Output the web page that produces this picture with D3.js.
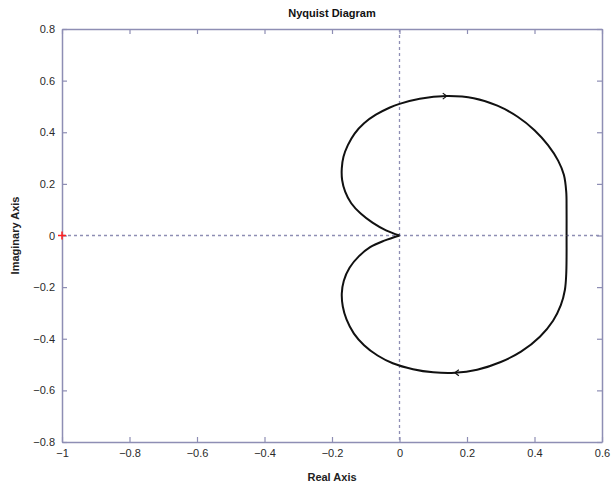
<!DOCTYPE html>
<html>
<head>
<meta charset="utf-8">
<script src="https://cdn.jsdelivr.net/npm/d3@7"></script>
<style>
  body { margin: 0; background: #fff; }
  svg { display: block; font-family: 'Liberation Sans', Arial, sans-serif; }
</style>
</head>
<body>
<div class="chart"></div>
<script>
const width = 613,
	height = 488

const margin = { top: 29, right: 11, bottom: 46, left: 62 }

// tick values
const xTicks = [-1, -0.8, -0.6, -0.4, -0.2, 0, 0.2, 0.4, 0.6]
const yTicks = [-0.8, -0.6, -0.4, -0.2, 0, 0.2, 0.4, 0.6, 0.8]

// upper branch (cusp -> right side)
const upperRe = [0, -0.04, -0.08, -0.115, -0.143, -0.161, -0.17, -0.171, -0.166, -0.153, -0.133, -0.105, -0.07, -0.03, 0, 0.06, 0.14, 0.22, 0.29, 0.35, 0.4, 0.44, 0.47, 0.487, 0.494, 0.495, 0.495]
const upperIm = [0, 0.02, 0.05, 0.085, 0.125, 0.17, 0.215, 0.26, 0.305, 0.35, 0.395, 0.435, 0.468, 0.495, 0.51, 0.53, 0.54, 0.532, 0.503, 0.46, 0.408, 0.35, 0.29, 0.235, 0.17, 0.1, 0]

// lower branch (cusp -> right side)
const lowerRe = [0, -0.045, -0.087, -0.12, -0.148, -0.165, -0.171, -0.168, -0.157, -0.135, -0.105, -0.065, -0.02, 0.04, 0.1, 0.164, 0.23, 0.3, 0.36, 0.416, 0.455, 0.478, 0.49, 0.494, 0.495, 0.495]
const lowerIm = [0, -0.02, -0.045, -0.08, -0.125, -0.175, -0.225, -0.275, -0.325, -0.38, -0.425, -0.465, -0.495, -0.518, -0.53, -0.532, -0.52, -0.49, -0.45, -0.392, -0.33, -0.27, -0.211, -0.15, -0.08, 0]

const axisColor = '#8e8eb4'

const svg = d3.select('.chart').append('svg').attr('width', width).attr('height', height)

const x = d3.scaleLinear().domain([-1, 0.6]).range([margin.left, width - margin.right])
const y = d3.scaleLinear().domain([-0.8, 0.8]).range([height - margin.bottom, margin.top])

const x0 = x.range()[0], x1 = x.range()[1]
const y0 = y.range()[1], y1 = y.range()[0]

// dashed zero lines
svg.append('line')
	.attr('x1', x0).attr('x2', x1)
	.attr('y1', y(0)).attr('y2', y(0))
	.attr('stroke', axisColor).attr('stroke-width', 1.3)
	.attr('stroke-dasharray', '3,3')
svg.append('line')
	.attr('x1', x(0)).attr('x2', x(0))
	.attr('y1', y0).attr('y2', y1)
	.attr('stroke', axisColor).attr('stroke-width', 1.3)
	.attr('stroke-dasharray', '3,3')

// axes (inward ticks, boxed like matlab)
const styleAxis = g => {
	g.select('.domain').attr('stroke', axisColor).attr('stroke-width', 1.5)
	g.selectAll('.tick line').attr('stroke', axisColor).attr('stroke-width', 1.2)
	g.selectAll('.tick text').attr('fill', '#2a2a2a').style('font-size', '11px')
}
const fmt = d => d3.format('')(+d.toFixed(1))

svg.append('g')
	.attr('transform', `translate(0,${y1})`)
	.call(d3.axisBottom(x).tickValues(xTicks).tickSize(-5).tickSizeOuter(0).tickPadding(7).tickFormat(fmt))
	.call(styleAxis)
svg.append('g')
	.attr('transform', `translate(0,${y0})`)
	.call(d3.axisTop(x).tickValues(xTicks).tickSize(-5).tickSizeOuter(0).tickFormat(''))
	.call(styleAxis)
svg.append('g')
	.attr('transform', `translate(${x0},0)`)
	.call(d3.axisLeft(y).tickValues(yTicks).tickSize(-5).tickSizeOuter(0).tickPadding(7).tickFormat(fmt))
	.call(styleAxis)
svg.append('g')
	.attr('transform', `translate(${x1},0)`)
	.call(d3.axisRight(y).tickValues(yTicks).tickSize(-5).tickSizeOuter(0).tickFormat(''))
	.call(styleAxis)

// the curve
const line = d3.line().x(d => x(d[0])).y(d => y(d[1])).curve(d3.curveCatmullRom.alpha(0.5))
const upper = upperRe.map((v, i) => [v, upperIm[i]])
const lower = lowerRe.map((v, i) => [v, lowerIm[i]])

svg.append('path').datum(upper)
	.attr('fill', 'none').attr('stroke', '#111').attr('stroke-width', 2).attr('d', line)
svg.append('path').datum(lower)
	.attr('fill', 'none').attr('stroke', '#111').attr('stroke-width', 2).attr('d', line)

// small direction arrows
const arrow = (px, py, dir) => {
	const ax = x(px), ay = y(py)
	svg.append('path')
		.attr('d', `M${ax - 4 * dir},${ay - 3}L${ax},${ay}L${ax - 4 * dir},${ay + 3}`)
		.attr('fill', 'none').attr('stroke', '#111').attr('stroke-width', 1.2)
}
arrow(upperRe[16], upperIm[16], 1)
arrow(lowerRe[15], lowerIm[15], -1)

// critical point -1 + 0j
const cx = x(-1), cy = y(0)
svg.append('path')
	.attr('d', `M${cx - 4},${cy}H${cx + 4}M${cx},${cy - 4}V${cy + 4}`)
	.attr('stroke', '#ff2020').attr('stroke-width', 1.5)

// title
svg.append('text')
	.attr('x', (x0 + x1) / 2).attr('y', 17)
	.attr('text-anchor', 'middle')
	.style('font-size', '11px').style('font-weight', 'bold').attr('fill', '#111')
	.text('Nyquist Diagram')

// axis labels
svg.append('text')
	.attr('x', (x0 + x1) / 2).attr('y', 481)
	.attr('text-anchor', 'middle')
	.style('font-size', '11px').style('font-weight', 'bold').attr('fill', '#222')
	.text('Real Axis')

svg.append('text')
	.attr('transform', `translate(19,${(y0 + y1) / 2}) rotate(-90)`)
	.attr('text-anchor', 'middle')
	.style('font-size', '11px').style('font-weight', 'bold').attr('fill', '#222')
	.text('Imaginary Axis')
</script>
</body>
</html>
